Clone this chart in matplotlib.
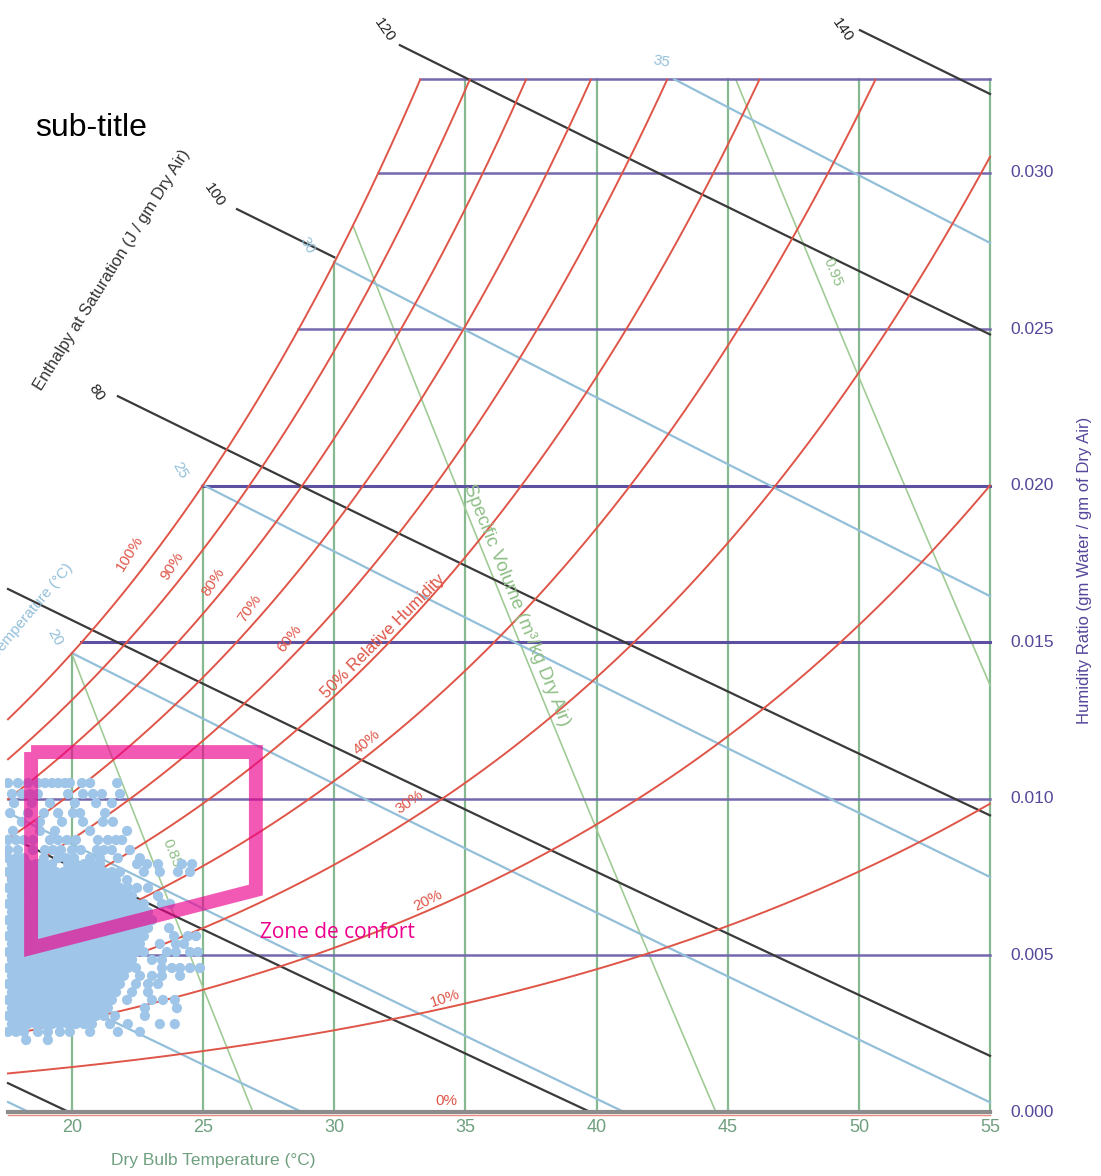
import numpy as np
import matplotlib.pyplot as plt
from matplotlib.patches import Rectangle

plt.rcParams['font.family'] = ['Liberation Sans', 'DejaVu Sans']

# grille du diagramme psychrometrique
dry_bulb = [20, 25, 30, 35, 40, 45, 50, 55]
humidity = [0.005, 0.010, 0.015, 0.020, 0.025, 0.030]
humidity_labels = ['0.000', '0.005', '0.010', '0.015', '0.020', '0.025', '0.030']
rh_levels = [0.1, 0.2, 0.3, 0.4, 0.5, 0.6, 0.7, 0.8, 0.9, 1.0]
wet_bulb = [5, 10, 15, 20, 25, 30, 35]
enthalpy = [20, 40, 60, 80, 100, 120, 140]
enthalpy_start = [17.56, 17.56, 17.56, 21.75, 26.29, 32.50, 50.04]
enthalpy_end = [55, 55, 55, 55, 30, 55, 55]
volume = [0.85, 0.90, 0.95]

t_min, t_max = 17.56, 55.0
w_top = 0.033

# nuage de points (T en degC, W en g/kg), lu ligne par ligne
cloud_w = [10.51, 10.16, 9.87, 9.55, 9.27, 8.98, 8.69, 8.37, 8.11, 7.92,
           7.67, 7.41, 7.16, 6.90, 6.65, 6.39, 6.13, 5.88, 5.62, 5.37,
           5.11, 4.86, 4.60, 4.35, 4.09, 3.83, 3.58, 3.32, 3.07, 2.81,
           2.56, 2.30]
cloud_t = [
    [17.56, 17.94, 18.32, 18.70, 18.97, 19.24, 19.47, 19.73, 19.92, 20.38, 20.69, 21.72],
    [17.71, 18.09, 18.40, 18.70, 19.85, 20.42, 20.80, 21.14, 21.83],
    [17.79, 18.47, 19.16, 20.11, 20.92, 21.52],
    [17.64, 18.32, 18.93, 19.47, 20.04, 20.31, 21.26],
    [18.09, 18.78, 19.62, 20.42, 21.18, 21.56],
    [17.75, 18.78, 19.35, 20.69, 22.10],
    [17.56, 17.87, 18.17, 18.51, 19.16, 19.47, 19.81, 20.15, 20.99, 21.37, 21.68, 21.91],
    [17.56, 17.94, 18.51, 18.97, 19.27, 19.58, 20.00, 20.34, 20.95, 21.22, 21.52, 22.21],
    [17.56, 17.87, 18.17, 18.93, 19.47, 19.77, 20.08, 20.69, 21.07, 21.75, 22.59],
    [17.71, 18.02, 18.32, 18.63, 18.93, 19.24, 19.85, 20.15, 20.46, 20.76, 21.07,
     22.48, 22.86, 23.28, 24.19, 24.58],
    [17.56, 17.87, 18.17, 18.47, 18.78, 19.08, 19.39, 19.69, 20.00, 20.31, 20.61,
     20.92, 21.22, 21.52, 21.83, 22.74, 23.35, 24.04, 24.50],
    [17.71, 18.02, 18.32, 18.63, 18.93, 19.24, 19.54, 19.85, 20.15, 20.46, 20.76,
     21.07, 21.37, 21.68, 22.10],
    [17.56, 17.87, 18.17, 18.47, 18.78, 19.08, 19.39, 19.69, 20.00, 20.31, 20.61,
     20.92, 21.22, 21.52, 21.83, 22.13, 22.48, 22.90],
    [17.71, 18.02, 18.32, 18.63, 18.93, 19.24, 19.54, 19.85, 20.15, 20.46, 20.76,
     21.07, 21.37, 21.68, 21.98, 22.29, 23.28],
    [17.56, 17.87, 18.17, 18.47, 18.78, 19.08, 19.39, 19.69, 20.00, 20.31, 20.61,
     20.92, 21.22, 21.52, 21.83, 22.13, 22.44, 22.74, 23.43, 23.74],
    [17.71, 18.02, 18.32, 18.63, 18.93, 19.24, 19.54, 19.85, 20.15, 20.46, 20.76,
     21.07, 21.37, 21.68, 21.98, 22.29, 22.59, 22.90],
    [17.56, 17.87, 18.17, 18.47, 18.78, 19.08, 19.39, 19.69, 20.00, 20.31, 20.61,
     20.92, 21.22, 21.52, 21.83, 22.13, 22.44, 22.74, 23.05],
    [17.71, 18.02, 18.32, 18.63, 18.93, 19.24, 19.54, 19.85, 20.15, 20.46, 20.76,
     21.07, 21.37, 21.68, 21.98, 22.29, 22.59, 22.90, 23.70],
    [17.56, 17.87, 18.17, 18.47, 18.78, 19.08, 19.39, 19.69, 20.00, 20.31, 20.61,
     20.92, 21.22, 21.52, 21.83, 22.13, 22.44, 22.74, 23.89, 24.42, 24.73],
    [17.71, 18.02, 18.32, 18.63, 18.93, 19.24, 19.54, 19.85, 20.15, 20.46, 20.76,
     21.07, 21.37, 21.68, 21.98, 22.29, 22.59, 23.35, 23.96, 24.27],
    [17.56, 17.87, 18.17, 18.47, 18.78, 19.08, 19.39, 19.69, 20.00, 20.31, 20.61,
     20.92, 21.22, 21.52, 21.83, 22.13, 22.44, 22.74, 23.62, 23.96, 24.50, 24.80],
    [17.71, 18.02, 18.32, 18.63, 18.93, 19.24, 19.54, 19.85, 20.15, 20.46, 20.76,
     21.07, 21.37, 21.68, 21.98, 22.29, 23.05, 23.43],
    [17.56, 17.87, 18.17, 18.47, 18.78, 19.08, 19.39, 19.69, 20.00, 20.31, 20.61,
     20.92, 21.22, 21.52, 21.83, 22.13, 22.44, 23.43, 23.81, 24.12, 24.50, 24.88],
    [17.71, 18.02, 18.32, 18.63, 18.93, 19.24, 19.54, 19.85, 20.15, 20.46, 20.76,
     21.07, 21.37, 21.68, 21.98, 22.59, 23.05, 23.43, 24.12],
    [17.56, 17.87, 18.17, 18.47, 18.78, 19.08, 19.39, 19.69, 20.00, 20.31, 20.61,
     20.92, 21.22, 21.52, 21.83, 22.44, 22.90, 23.28],
    [17.71, 18.02, 18.32, 18.63, 18.93, 19.24, 19.54, 19.85, 20.15, 20.46, 20.76,
     21.07, 21.37, 21.68, 22.29, 22.90],
    [17.56, 17.87, 18.17, 18.47, 18.78, 19.08, 19.39, 19.69, 20.00, 20.31, 20.61,
     20.92, 21.22, 21.52, 22.10, 23.05, 23.47, 23.92],
    [17.71, 18.02, 18.32, 18.63, 18.93, 19.24, 19.54, 19.85, 20.15, 20.46, 20.76,
     21.07, 21.37, 22.78, 24.00],
    [17.56, 17.87, 18.17, 18.47, 18.78, 19.08, 19.39, 19.69, 20.00, 20.31, 20.61,
     20.92, 21.22, 21.64, 22.78],
    [17.71, 18.02, 18.32, 18.63, 18.93, 19.24, 19.54, 19.85, 20.15, 20.46, 20.76,
     21.45, 22.13, 23.35, 23.92],
    [17.56, 17.87, 18.17, 18.70, 19.08, 19.54, 19.92, 20.69, 21.75, 22.59],
    [18.25, 19.08],
]

# zone de confort
comfort_t = [18.44, 27.01, 27.01, 18.44, 18.44]
comfort_w = [0.0115, 0.0115, 0.00709, 0.00524, 0.0115]

P = 101.325


def p_sat(t):
    return 0.61094 * np.exp(17.625 * t / (t + 243.04))


def w_rh(t, rh):
    pw = rh * p_sat(t)
    return 0.622 * pw / (P - pw)


def w_wb(t, twb):
    ws = w_rh(twb, 1.0)
    return ((2501 - 2.326 * twb) * ws - 1.006 * (t - twb)) / (2501 + 1.86 * t - 4.186 * twb)


def w_h(t, h):
    return (h - 1.006 * t) / (2501 + 1.86 * t)


def w_v(t, v):
    return (v * P / (0.287042 * (t + 273.15)) - 1) / 1.6078


red = '#df5548'
green = '#86b98f'
purple = '#7668ae'
blue = '#93bfd9'
black = '#3a3a3a'
vgreen = '#a0cb95'

fig = plt.figure(figsize=(11.01, 11.76), dpi=100)
ax = fig.add_axes([0, 0, 1, 1])
ax.set_xlim(17.255, 59.231)
ax.set_ylim(-0.0020447, 0.035527)
ax.axis('off')

tt = np.linspace(t_min, t_max, 3000)
w_sat = w_rh(tt, 1.0)
w_lim = np.minimum(w_sat, w_top)


def inside(w, t0=-100):
    ok = (w >= 0) & (w <= w_lim + 1e-6) & (tt >= t0)
    return np.where(ok, w, np.nan)


# lignes verticales (temperature seche)
for t in dry_bulb:
    ax.plot([t, t], [0, min(w_rh(t, 1.0), w_top)], color=green, lw=1.6, zorder=1)

# lignes horizontales (humidite)
for w in humidity + [w_top]:
    t0 = max(np.interp(w, w_sat, tt), t_min)
    dark = w in (0.015, 0.020)
    ax.plot([t0, t_max], [w, w], color='#5e50a0' if dark else purple,
            lw=2.2 if dark else 1.8, zorder=2)

# volume specifique
for v in volume:
    ax.plot(tt, inside(w_v(tt, v)), color=vgreen, lw=1.2, zorder=1)

# temperature humide
for twb in wet_bulb:
    ax.plot(tt, inside(w_wb(tt, twb), twb), color=blue, lw=1.6, zorder=2)

# enthalpie
for h, t0, t1 in zip(enthalpy, enthalpy_start, enthalpy_end):
    t = np.linspace(t0, t1, 600)
    w = w_h(t, h)
    ax.plot(t, np.where(w >= 0, w, np.nan), color=black, lw=1.6, zorder=3)

# humidite relative
for rh in rh_levels:
    w = w_rh(tt, rh)
    ax.plot(tt, np.where(w <= w_top, w, np.nan), color=red, lw=1.4, zorder=3)

# ligne 0 %
ax.plot([t_min, t_max], [0, 0], color='#8c8c8c', lw=3.0, zorder=3)
ax.plot([t_min, t_max], [-0.00009, -0.00009], color='#e88a80', lw=1.0, zorder=3)

# nuage de points
pts_t, pts_w = [], []
for w, row in zip(cloud_w, cloud_t):
    pts_t += row
    pts_w += [w / 1000.0] * len(row)
sc = ax.scatter(pts_t, pts_w, s=54, color='#9fc5e8', edgecolors='none', zorder=5)
sc.set_clip_path(Rectangle((17.43, -0.002), 45, 0.04, transform=ax.transData))

# zone de confort
ax.plot(comfort_t, comfort_w, color='#ec008c', alpha=0.65, lw=10,
        solid_joinstyle='miter', solid_capstyle='butt', zorder=6)
ax.text(27.17, 0.00572, 'Zone de confort', color='#ec008c', fontsize=15,
        family=['Open Sans', 'DejaVu Sans'], ha='left', va='center', zorder=7)

# etiquettes humidite relative
rh_text = [
    ('100%', 22.21, 0.01786, 58), ('90%', 23.81, 0.01744, 57),
    ('80%', 25.38, 0.01693, 57), ('70%', 26.79, 0.01610, 55),
    ('60%', 28.31, 0.01514, 52), ('50% Relative Humidity', 31.86, 0.01521, 45),
    ('40%', 31.25, 0.01182, 40), ('30%', 32.89, 0.00990, 35),
    ('20%', 33.57, 0.00677, 27), ('10%', 34.22, 0.00364, 18),
    ('0%', 34.26, 0.00035, 0),
]
for s, t, w, r in rh_text:
    ax.text(t, w, s, color=red, fontsize=12 if len(s) > 4 else 11, rotation=r,
            ha='center', va='center', rotation_mode='anchor', zorder=4)

# etiquettes temperature humide
for s, t, w, r in [('20', 19.35, 0.01518, -60), ('25', 24.12, 0.02051, -60),
                   ('30', 28.96, 0.02770, -60), ('35', 42.49, 0.03355, -10)]:
    ax.text(t, w, s, color=blue, fontsize=11, rotation=r, ha='center', va='center',
            rotation_mode='anchor')
ax.text(19.92, 0.01748, 'Wet Bulb Temperature (°C)', color=blue, fontsize=11,
        rotation=50, ha='right', va='center', rotation_mode='anchor')

# etiquettes enthalpie
for s, t, w in [('80', 20.95, 0.02297), ('100', 25.45, 0.02930),
                ('120', 31.93, 0.03457), ('140', 49.39, 0.03457)]:
    ax.text(t, w, s, color='#222222', fontsize=11, rotation=-55, ha='center',
            va='center', rotation_mode='anchor')
ax.text(21.53, 0.0269, 'Enthalpy at Saturation (J / gm Dry Air)', color='#333333',
        fontsize=12, rotation=58, ha='center', va='center', rotation_mode='anchor')

# etiquettes volume specifique
ax.text(23.81, 0.00827, '0.85', color='#8fbf86', fontsize=11, rotation=-68,
        ha='center', va='center', rotation_mode='anchor')
ax.text(49.01, 0.02684, '0.95', color='#8fbf86', fontsize=11, rotation=-68,
        ha='center', va='center', rotation_mode='anchor')
ax.text(36.93, 0.0162, 'Specific Volume (m³/kg Dry Air)', color='#8fbf86',
        fontsize=13.5, rotation=-68, ha='center', va='center', rotation_mode='anchor')

# axes
for t in dry_bulb:
    ax.text(t, -0.00051, str(t), color='#6f9f7f', fontsize=13, ha='center', va='center')
ax.text(25.38, -0.001565, 'Dry Bulb Temperature (°C)', color='#6f9f7f', fontsize=12.5,
        ha='center', va='center')
for w, s in zip([0.0] + humidity, humidity_labels):
    ax.text(56.6, w, s, color='#55479a', fontsize=12.5, ha='center', va='center')
ax.text(58.62, 0.01732, 'Humidity Ratio (gm Water / gm of Dry Air)', color='#55479a',
        fontsize=12, rotation=90, ha='center', va='center')

fig.text(0.032, 0.891, 'sub-title', fontsize=23, ha='left', va='center')

fig.savefig('out.png', dpi=100)
